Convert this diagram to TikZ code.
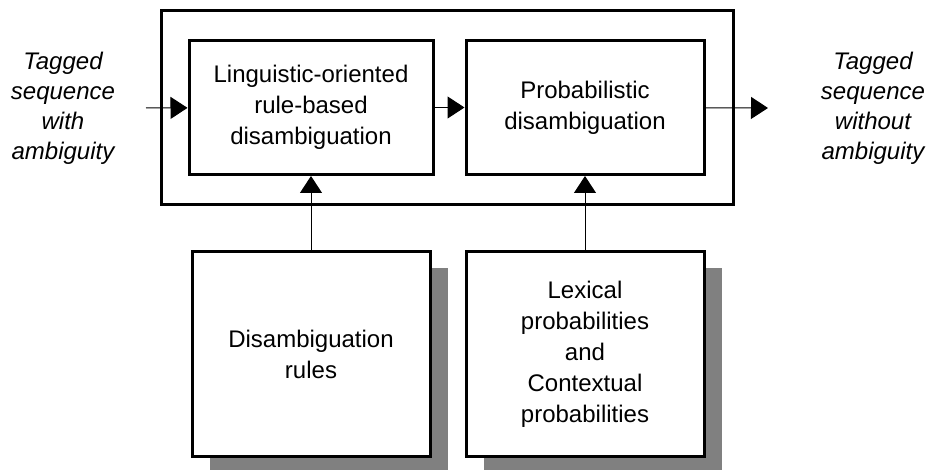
\documentclass[tikz,border=0pt]{standalone}
\usepackage{fontspec}
\setmainfont{Liberation Sans}
\usetikzlibrary{arrows.meta,positioning,shadows}
\tikzset{
    stage/.style={rectangle,draw,line width=1.5pt,align=center,minimum height=67pt,font=\fontsize{12}{15.5}\selectfont},
    source/.style={rectangle,draw,line width=1.5pt,fill=white,align=center,minimum width=119pt,minimum height=102.5pt,font=\fontsize{12}{15.5}\selectfont,
        drop shadow={shadow xshift=9pt,shadow yshift=-8.5pt,fill=black!50,opacity=1}},
    frame/.style={rectangle,draw,line width=1.5pt,minimum width=286pt,minimum height=97pt},
    flowtext/.style={align=center,font=\fontsize{12}{15}\selectfont\itshape},
    pre/.style={-{Triangle[length=8.5pt,width=11pt]},line width=0.5pt}
}

\begin{document}
\begin{tikzpicture}[x=0.5pt,y=-0.5pt]
    \useasboundingbox (0,0) rectangle (928,470);

    \node[frame]  (system) at (447,108) {};

    \node[stage,minimum width=122pt] (rules stage) at (311,107.5) {Linguistic-oriented\\rule-based\\disambiguation};
    \node[stage,minimum width=119pt] (prob stage) [right=15pt of rules stage] {Probabilistic\\disambiguation};

    \node[source] (rule base) [below=37pt of rules stage] {Disambiguation\\rules};
    \node[source] (prob base) [below=37pt of prob stage] {Lexical\\probabilities\\and\\Contextual\\probabilities};

    \node[flowtext] (input)  at (63,108)  {Tagged\\sequence\\with\\ambiguity};
    \node[flowtext] (output) at (873,108) {Tagged\\sequence\\without\\ambiguity};
    \coordinate (input end)  at (146,108);
    \coordinate (output end) at (768,108);

    \draw[pre] (input end) -- (rules stage);
    \draw[pre] (rules stage) -- (prob stage);
    \draw[pre] (prob stage) -- (output end);
    \draw[pre] (rule base) -- (rules stage);
    \draw[pre] (prob base) -- (prob stage);
\end{tikzpicture}
\end{document}
